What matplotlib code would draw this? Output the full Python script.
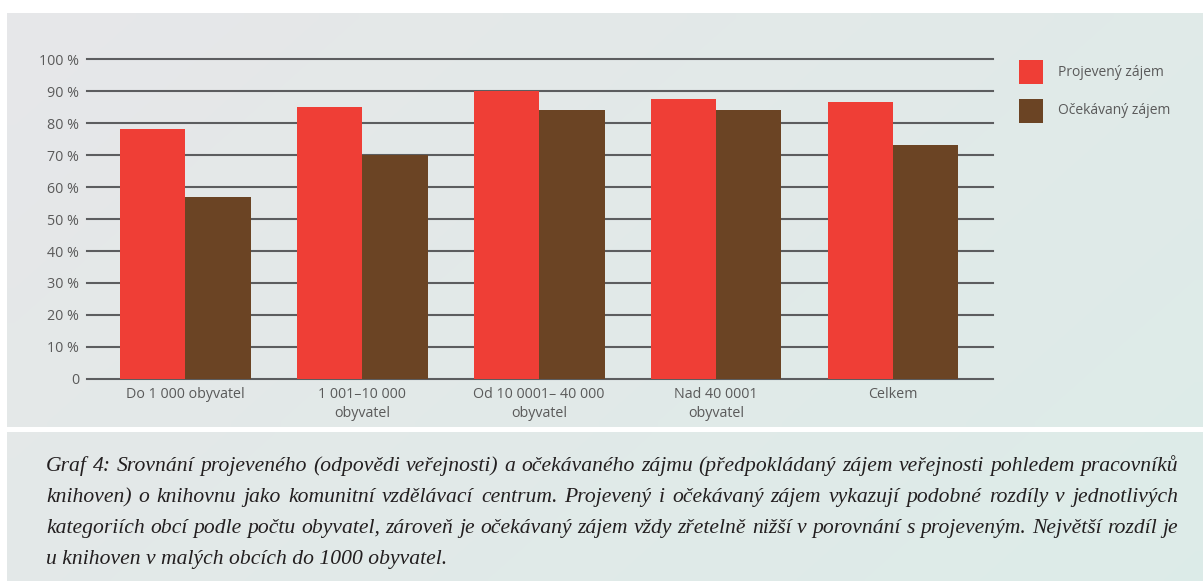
import matplotlib
matplotlib.use('Agg')
import matplotlib.pyplot as plt
import numpy as np
from matplotlib.patches import Rectangle

# ---------------- data ----------------
categories = ["Do 1 000 obyvatel", "1 001–10 000\nobyvatel", "Od 10 0001– 40 000\nobyvatel",
              "Nad 40 0001\nobyvatel", "Celkem"]
projeveny = [78, 85, 90, 87.5, 86.5]
ocekavany = [57, 70, 84, 84, 73]
series_names = ["Projevený zájem", "Očekávaný zájem"]
yticks = [0, 10, 20, 30, 40, 50, 60, 70, 80, 90, 100]
ytick_labels = ["0", "10 %", "20 %", "30 %", "40 %", "50 %", "60 %", "70 %", "80 %", "90 %", "100 %"]
caption_lines = [
    "Graf 4: Srovnání projeveného (odpovědi veřejnosti) a očekávaného zájmu (předpokládaný zájem veřejnosti pohledem pracovníků",
    "knihoven) o knihovnu jako komunitní vzdělávací centrum. Projevený i očekávaný zájem vykazují podobné rozdíly v jednotlivých",
    "kategoriích obcí podle počtu obyvatel, zároveň je očekávaný zájem vždy zřetelně nižší v porovnání s projeveným. Největší rozdíl je",
    "u knihoven v malých obcích do 1000 obyvatel.",
]

# ---------------- style ----------------
RED = "#ef3e36"
BROWN = "#6b4424"
GRID = "#5c5d5f"
TXT = "#5a5a5a"
SANS = "Open Sans"

W, H = 1203, 581
fig = plt.figure(figsize=(W / 100, H / 100), dpi=100)
fig.patch.set_facecolor("white")

# background panels with subtle gradient (pixel coordinates)
bg = fig.add_axes([0, 0, 1, 1])
bg.axis("off")
c0 = np.array([0.905, 0.906, 0.914])
c1 = np.array([0.866, 0.925, 0.912])
def panel(x0, x1, y0, y1):
    gx = np.linspace(x0, x1, 80)
    gy = np.linspace(y0, y1, 40)
    X, Y = np.meshgrid(gx, gy)
    t = np.clip(0.65 * X / W + 0.35 * Y / H, 0, 1)[..., None]
    img = c0 + (c1 - c0) * t
    bg.imshow(img, extent=(x0, x1, y1, y0), origin="upper", aspect="auto",
              interpolation="bilinear", zorder=0)
panel(7, W, 13, 427)
panel(7, W, 432, H)
bg.set_xlim(0, W)
bg.set_ylim(H, 0)

# main chart axes
ax = fig.add_axes([87 / W, (H - 379) / H, 906 / W, 320 / H])
ax.patch.set_alpha(0)
x = np.arange(len(categories))
w = 0.37
for v in yticks:
    ax.axhline(v, color=GRID, lw=1.5, zorder=1, clip_on=False)
b1 = ax.bar(x - w / 2, projeveny, w, color=RED, zorder=2, label=series_names[0])
b2 = ax.bar(x + w / 2, ocekavany, w, color=BROWN, zorder=2, label=series_names[1])
ax.set_xlim(-0.554, 4.565)
ax.set_ylim(0, 100)
for s in ax.spines.values():
    s.set_visible(False)
ax.set_yticks(yticks, ytick_labels)
ax.set_xticks(x, categories)
ax.tick_params(axis="y", length=0, pad=5.5, labelsize=10.3, labelcolor=TXT)
ax.tick_params(axis="x", length=0, pad=6, labelsize=10.3, labelcolor=TXT)
for lab in ax.get_yticklabels() + ax.get_xticklabels():
    lab.set_fontfamily(SANS)
for lab in ax.get_xticklabels():
    lab.set_linespacing(1.35)

# legend (pixel coordinates on the background axes)
leg_colors = [RED, BROWN]
leg_tops = [60, 99]
for name, col, top in zip(series_names, leg_colors, leg_tops):
    bg.add_patch(Rectangle((1019, top), 24, 24, facecolor=col, edgecolor="none", zorder=3))
    bg.text(1058, top + 12, name, fontsize=10.0, family=SANS, color=TXT,
            va="center", ha="left", zorder=3)

# caption with justified lines
fig.canvas.draw()
r = fig.canvas.get_renderer()
CAP_FONT = dict(family="Liberation Serif", style="italic", color="#231f20")

def width(s, size):
    t = bg.text(0, 0, s, fontsize=size, **CAP_FONT)
    wd = t.get_window_extent(r).width
    t.remove()
    return wd

left, right = 46, 1178
target = right - left
nat = max(width(l, 10) for l in caption_lines[:3])
cap_size = 10 * target * 0.995 / nat
baselines = [471, 502, 533, 564]
for i, line in enumerate(caption_lines):
    if i < 3:
        words = line.split()
        ws = [width(wd, cap_size) for wd in words]
        gap = (target - sum(ws)) / (len(words) - 1)
        xx = left
        for wd, ww in zip(words, ws):
            bg.text(xx, baselines[i], wd, fontsize=cap_size, va="baseline", ha="left", **CAP_FONT)
            xx += ww + gap
    else:
        bg.text(left, baselines[i], line, fontsize=cap_size, va="baseline", ha="left", **CAP_FONT)

fig.savefig("out.png", dpi=100, facecolor="white")
